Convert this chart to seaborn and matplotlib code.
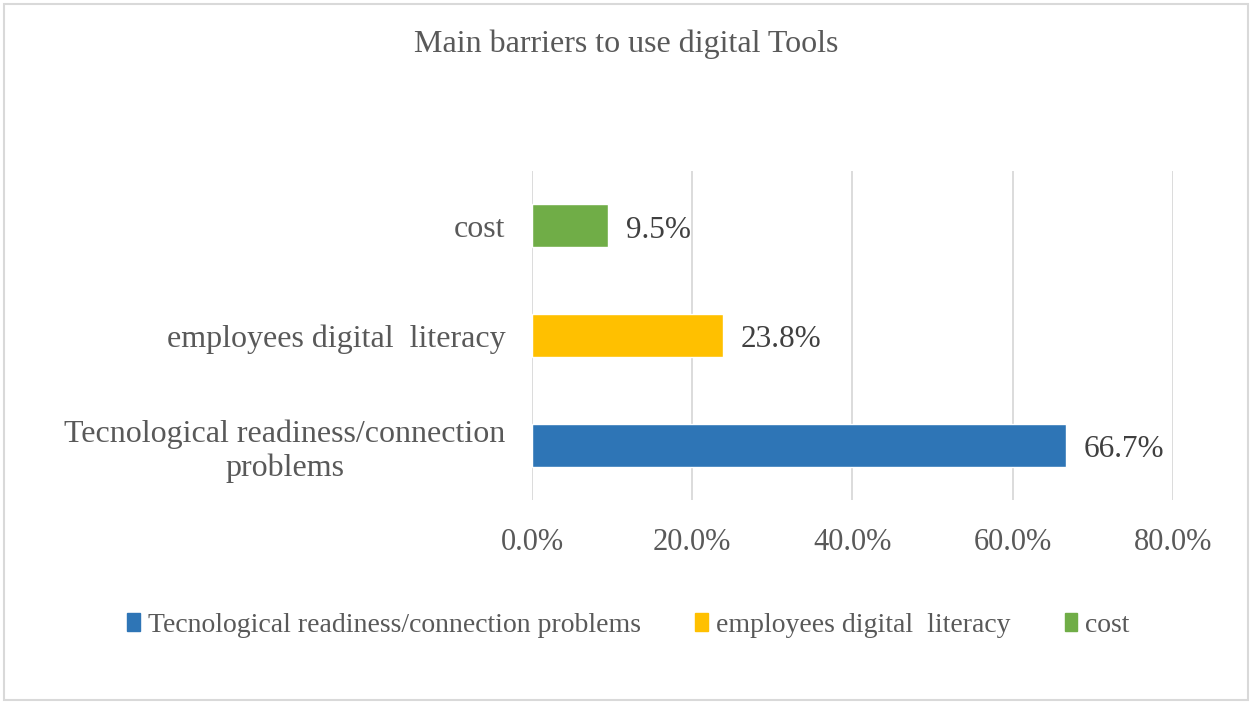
import matplotlib
matplotlib.use("Agg")
import matplotlib.pyplot as plt
import matplotlib.patches as mpatches
from matplotlib.ticker import FuncFormatter
import seaborn as sns
import pandas as pd

# Survey results
categories = ["cost", "employees digital  literacy", "Tecnological readiness/connection problems"]
values = [9.5, 23.8, 66.7]
bar_colors = ["#70AD47", "#FFC000", "#2E75B6"]
tick_values = [0, 20, 40, 60, 80]
y_labels = ["cost", "employees digital  literacy", "Tecnological readiness/connection\nproblems"]
title = "Main barriers to use digital Tools"

sns.set_theme(style="white")
plt.rcParams["font.family"] = ["Liberation Serif", "DejaVu Serif"]

text_color = "#595959"
grid_color = "#D9D9D9"

df = pd.DataFrame({"category": categories, "value": values})

fig = plt.figure(figsize=(12.52, 7.04), dpi=100)
ax = fig.add_axes([0.4249, 0.2898, 0.5120, 0.4673])

sns.barplot(data=df, y="category", x="value", hue="category", order=categories,
            hue_order=categories, palette=dict(zip(categories, bar_colors)),
            width=0.39, legend=False, ax=ax, saturation=1)

ax.set_xlim(0, 80)
ax.set_xticks(tick_values)
ax.xaxis.set_major_formatter(FuncFormatter(lambda v, p: f"{v:.1f}%"))
ax.set_yticks(range(len(categories)))
ax.set_yticklabels(y_labels, multialignment="center", linespacing=1.2)
ax.tick_params(axis="x", labelsize=22, labelcolor=text_color, length=0, pad=20)
ax.tick_params(axis="y", labelsize=23, labelcolor=text_color, length=0, pad=19)
ax.set_xlabel("")
ax.set_ylabel("")
ax.grid(axis="x", color=grid_color, linewidth=1.3)
ax.set_axisbelow(True)
for s in ax.spines.values():
    s.set_visible(False)

for i, v in enumerate(values):
    ax.text(v + 2.2, i + 0.04, f"{v:.1f}%", va="center", ha="left",
            fontsize=22.5, color="#404040")

fig.text(0.5, 0.937, title, ha="center", va="center", fontsize=23, color=text_color)

# Legend in original series order
legend_order = [2, 1, 0]
handles = [mpatches.Patch(color=bar_colors[i], label=categories[i]) for i in legend_order]
fig.legend(handles=handles, loc="center", bbox_to_anchor=(0.502, 0.112), ncol=3,
           frameon=False, fontsize=20, labelcolor=text_color, handlelength=0.45,
           handleheight=0.65, handletextpad=0.3, columnspacing=1.95)

# Chart-area border
fig.patches.append(mpatches.Rectangle((0.003, 0.005), 0.994, 0.99, transform=fig.transFigure,
                                      fill=False, edgecolor=grid_color, linewidth=1.5))

fig.savefig("out.png", dpi=100, facecolor="white")
